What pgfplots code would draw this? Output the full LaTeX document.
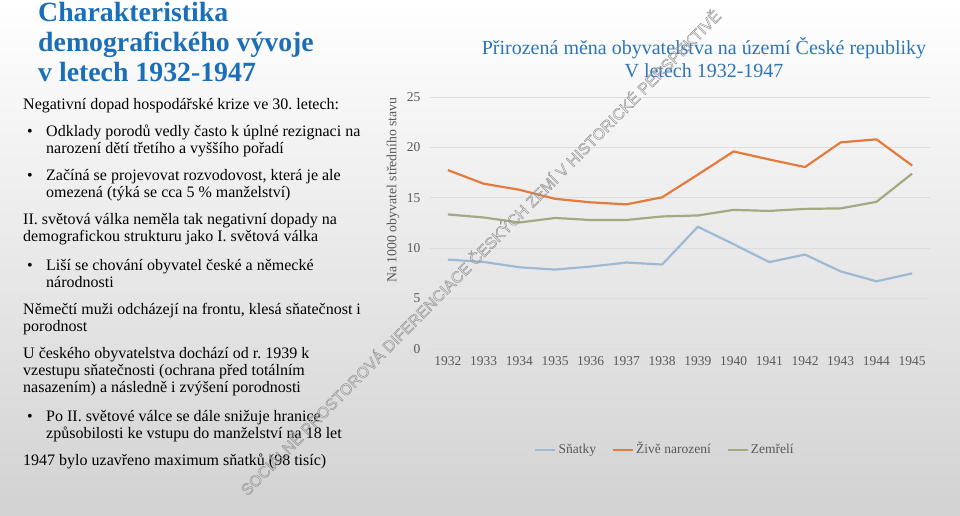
\documentclass[border=0pt]{standalone}
\usepackage{pgfplots}
\pgfplotsset{compat=1.18}
\usepackage{fontspec}
\setmainfont{Liberation Serif}
\newfontfamily\wmfont{Liberation Sans}
\frenchspacing

\definecolor{titleblue}{HTML}{1B6FB9}
\definecolor{charttitle}{HTML}{2E75B6}
\definecolor{csnatky}{HTML}{9EB9D4}
\definecolor{cnaroz}{HTML}{E37B3D}
\definecolor{czemr}{HTML}{A4A982}
\definecolor{gridc}{HTML}{DDDDDD}
\definecolor{tickc}{HTML}{595959}
\definecolor{bgbottom}{HTML}{D2D2D2}

\newcommand{\body}{\fontsize{16}{17}\selectfont}

\begin{document}
\begin{tikzpicture}
% background and slide text, pixel coordinates (y downwards)
\begin{scope}[x=1pt,y=-1pt]
  \shade[top color=white, bottom color=bgbottom] (0,0) rectangle (960,515);
  \begin{scope}[every node/.style={anchor=base west, inner sep=0pt}]
    \node[text=titleblue, font=\bfseries\fontsize{27.8}{30}\selectfont] at (38,21) {Charakteristika};
    \node[text=titleblue, font=\bfseries\fontsize{27.8}{30}\selectfont] at (38,51.5) {demografického vývoje};
    \node[text=titleblue, font=\bfseries\fontsize{27.8}{30}\selectfont] at (38,81) {v letech 1932-1947};

    \node[font=\body] at (23,109) {Negativní dopad hospodářské krize ve 30. letech:};
    \node[font=\body] at (27,136) {•};
    \node[font=\body] at (46,136) {Odklady porodů vedly často k úplné rezignaci na};
    \node[font=\body] at (46,153) {narození dětí třetího a vyššího pořadí};
    \node[font=\body] at (27,180) {•};
    \node[font=\body] at (46,180) {Začíná se projevovat rozvodovost, která je ale};
    \node[font=\body] at (46,197) {omezená (týká se cca 5 \% manželství)};
    \node[font=\body] at (23,224) {II. světová válka neměla tak negativní dopady na};
    \node[font=\body] at (23,241) {demografickou strukturu jako I. světová válka};
    \node[font=\body] at (27,270) {•};
    \node[font=\body] at (46,270) {Liší se chování obyvatel české a německé};
    \node[font=\body] at (46,287) {národnosti};
    \node[font=\body] at (23,314) {Němečtí muži odcházejí na frontu, klesá sňatečnost i};
    \node[font=\body] at (23,331) {porodnost};
    \node[font=\body] at (23,358) {U českého obyvatelstva dochází od r. 1939 k};
    \node[font=\body] at (23,375) {vzestupu sňatečnosti (ochrana před totálním};
    \node[font=\body] at (23,392) {nasazením) a následně i zvýšení porodnosti};
    \node[font=\body] at (27,421) {•};
    \node[font=\body] at (46,421) {Po II. světové válce se dále snižuje hranice};
    \node[font=\body] at (46,438) {způsobilosti ke vstupu do manželství na 18 let};
    \node[font=\body] at (23,465) {1947 bylo uzavřeno maximum sňatků (98 tisíc)};
  \end{scope}
  \node[anchor=base, inner sep=0pt, text=charttitle, font=\fontsize{20}{22}\selectfont] at (704,54)
    {Přirozená měna obyvatelstva na území České republiky};
  \node[anchor=base, inner sep=0pt, text=charttitle, font=\fontsize{20}{22}\selectfont] at (704,77)
    {V letech 1932-1947};
\end{scope}

\begin{axis}[
    at={(430pt,-349pt)}, anchor=south west,
    scale only axis, width=500pt, height=252pt,
    xmin=1931.5, xmax=1945.5,
    ymin=0, ymax=25,
    xtick={1932,1933,...,1945},
    ytick={0,5,10,15,20,25},
    /pgf/number format/1000 sep={},
    /pgf/number format/assume math mode=true,
    axis line style={draw=none},
    major tick style={draw=none},
    ymajorgrids=true,
    grid style={gridc, line width=0.8pt},
    ticklabel style={text=tickc, font=\fontsize{13.5}{15}\selectfont},
    yticklabel style={xshift=-6pt},
    xticklabel style={yshift=-4pt},
    ylabel={Na 1000 obyvatel středního stavu},
    ylabel style={at={(axis description cs:-0.074,0.631)}, anchor=center,
                  text=tickc, font=\fontsize{13.8}{15}\selectfont},
    legend style={at={(0.47,-0.40)}, anchor=center, draw=none, fill=none,
                  text=tickc, font=\fontsize{13.5}{15}\selectfont,
                  nodes={text height=9.5pt, text depth=3pt},
                  /tikz/every even column/.append style={column sep=14pt}},
    legend columns=3,
    legend image code/.code={\draw[#1] (0pt,0pt) -- (20pt,0pt);},
    every axis plot/.append style={line width=2.2pt, line join=round},
]
\addplot[csnatky] coordinates {
 (1932,8.87)(1933,8.64)(1934,8.11)(1935,7.88)(1936,8.18)(1937,8.58)(1938,8.38)
 (1939,12.13)(1940,10.4)(1941,8.62)(1942,9.37)(1943,7.7)(1944,6.72)(1945,7.5)};
\addplot[cnaroz] coordinates {
 (1932,17.75)(1933,16.4)(1934,15.8)(1935,14.9)(1936,14.55)(1937,14.35)(1938,15.05)
 (1939,17.3)(1940,19.6)(1941,18.8)(1942,18.05)(1943,20.5)(1944,20.8)(1945,18.2)};
\addplot[czemr] coordinates {
 (1932,13.35)(1933,13.05)(1934,12.55)(1935,13.0)(1936,12.8)(1937,12.8)(1938,13.15)
 (1939,13.25)(1940,13.8)(1941,13.7)(1942,13.9)(1943,13.95)(1944,14.6)(1945,17.4)};
\legend{Sňatky, Živě narození, Zemřelí}
\end{axis}

% watermark
\begin{scope}[x=1pt,y=-1pt]
  \node[rotate=45.3, inner sep=0pt, text={rgb,255:red,150;green,150;blue,150},
        font=\wmfont\fontsize{15.9}{17}\selectfont] at (480,252)
    {\special{pdf:literal direct 1 Tr 0.5 w}SOCIÁLNĚ PROSTOROVÁ DIFERENCIACE ČESKÝCH ZEMÍ V HISTORICKÉ PERSPEKTIVĚ\special{pdf:literal direct 0 Tr}};
\end{scope}
\end{tikzpicture}
\end{document}
